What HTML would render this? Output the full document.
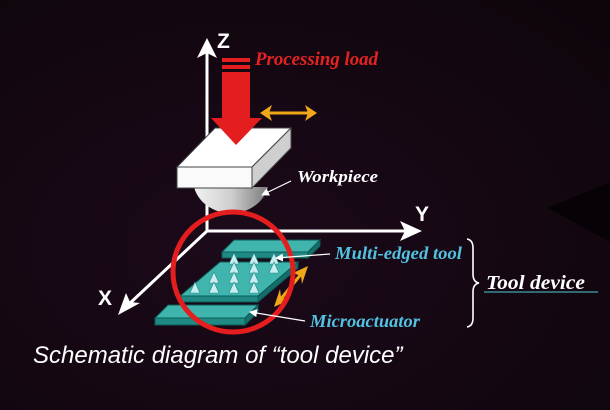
<!DOCTYPE html>
<html><head><style>
html,body{margin:0;padding:0;background:#14070f;}
svg{display:block}
</style></head><body>
<svg width="610" height="410" viewBox="0 0 610 410" xmlns="http://www.w3.org/2000/svg">
<defs>
<radialGradient id="bg" cx="0.4" cy="0.6" r="0.8"><stop offset="0" stop-color="#1c0a1a"/><stop offset="1" stop-color="#0e050b"/></radialGradient>
<linearGradient id="hemi" x1="0" y1="0" x2="1" y2="0"><stop offset="0" stop-color="#f2f2f2"/><stop offset="0.5" stop-color="#cfcfcf"/><stop offset="1" stop-color="#7a7a7a"/></linearGradient>
<marker id="wh" markerWidth="8" markerHeight="8" refX="7" refY="4" orient="auto" markerUnits="userSpaceOnUse"><path d="M0,0 L8,4 L0,8 Z" fill="#fff"/></marker>
</defs>
<rect width="610" height="410" fill="url(#bg)"/>
<path d="M548,208 L610,182 L610,242 Z" fill="#060206"/>
<g stroke="#fff" stroke-width="3" fill="none">
<line x1="207" y1="232" x2="207" y2="52"/>
<line x1="207" y1="231" x2="408" y2="231"/>
<line x1="207" y1="231" x2="128" y2="305"/>
</g>
<path d="M207,38 L197,58 L207,53 L217,58 Z" fill="#fff"/>
<path d="M422,231 L400,221 L405,231 L400,241 Z" fill="#fff"/>
<path d="M118,315 L126,293 L130,302 L140,303 Z" fill="#fff"/>
<text x="217" y="48" font-family="Liberation Sans,sans-serif" font-weight="bold" font-size="21" fill="#fff">Z</text>
<text x="415" y="221" font-family="Liberation Sans,sans-serif" font-weight="bold" font-size="21" fill="#fff">Y</text>
<text x="98" y="305" font-family="Liberation Sans,sans-serif" font-weight="bold" font-size="21" fill="#fff">X</text>
<path d="M194,187 A38,34 0 0 0 268,187 Z" fill="url(#hemi)"/>
<path d="M177,167 L252,167 L291,128 L215,128 Z" fill="#fff" stroke="#444" stroke-width="1"/>
<path d="M177,167 L252,167 L252,188 L177,188 Z" fill="#fafafa" stroke="#444" stroke-width="1"/>
<path d="M252,167 L291,128 L291,148 L252,188 Z" fill="#cfcfcf" stroke="#444" stroke-width="1"/>
<rect x="222" y="58" width="28" height="4" fill="#e41e1e"/>
<rect x="222" y="65" width="28" height="4" fill="#e41e1e"/>
<path d="M222,72 L250,72 L250,118 L262,118 L236,145 L211,118 L222,118 Z" fill="#e41e1e"/>
<text x="255" y="65" font-family="Liberation Serif,serif" font-style="italic" font-weight="bold" font-size="19" fill="#e62222" textLength="123" lengthAdjust="spacingAndGlyphs">Processing load</text>
<line x1="268" y1="113" x2="310" y2="113" stroke="#f0a818" stroke-width="3"/>
<path d="M260,113 L272,105 L269,113 L272,121 Z M317,113 L305,105 L308,113 L305,121 Z" fill="#f0a818"/>
<text x="297" y="182" font-family="Liberation Serif,serif" font-style="italic" font-weight="bold" font-size="17" fill="#fff" textLength="81" lengthAdjust="spacingAndGlyphs">Workpiece</text>
<line x1="291" y1="181" x2="262" y2="195" stroke="#fff" stroke-width="1.2" marker-end="url(#wh)"/>
<g stroke="#0d5a55" stroke-width="1">
<path d="M222,252 L308,252 L320,240 L234,240 Z" fill="#3fb5ae"/>
<path d="M222,252 L308,252 L308,258 L222,258 Z" fill="#1f8a84"/>
<path d="M308,252 L320,240 L320,246 L308,258 Z" fill="#166e6a"/>
<path d="M180,296 L258,296 L298,262 L220,262 Z" fill="#3fb5ae"/>
<path d="M180,296 L258,296 L258,302 L180,302 Z" fill="#1f8a84"/>
<path d="M258,296 L298,262 L298,268 L258,302 Z" fill="#166e6a"/>
<path d="M155,318 L245,318 L258,305 L168,305 Z" fill="#3fb5ae"/>
<path d="M155,318 L245,318 L245,325 L155,325 Z" fill="#1f8a84"/>
<path d="M245,318 L258,305 L258,312 L245,325 Z" fill="#166e6a"/>
</g>
<g fill="#c8eef2" stroke="#2a8a88" stroke-width="0.6">
<path d="M229,264 l5,-11 l5,11Z M249,264 l5,-11 l5,11Z M269,264 l5,-11 l5,11Z"/>
<path d="M229,273 l5,-11 l5,11Z M249,273 l5,-11 l5,11Z M269,273 l5,-11 l5,11Z"/>
<path d="M209,283 l5,-11 l5,11Z M229,283 l5,-11 l5,11Z M249,283 l5,-11 l5,11Z"/>
<path d="M190,293 l5,-11 l5,11Z M209,293 l5,-11 l5,11Z M229,293 l5,-11 l5,11Z M249,293 l5,-11 l5,11Z"/>
</g>
<line x1="302" y1="273" x2="280" y2="300" stroke="#f0a818" stroke-width="3"/>
<path d="M308,266 L293,273 L301,276 L302,284 Z M274,307 L289,300 L281,297 L280,289 Z" fill="#f0a818"/>
<circle cx="233" cy="272" r="60" fill="none" stroke="#e41e1e" stroke-width="5"/>
<line x1="330" y1="254" x2="276" y2="258" stroke="#fff" stroke-width="1.2" marker-end="url(#wh)"/>
<line x1="305" y1="321" x2="250" y2="312" stroke="#fff" stroke-width="1.2" marker-end="url(#wh)"/>
<text x="335" y="259" font-family="Liberation Serif,serif" font-style="italic" font-weight="bold" font-size="18" fill="#52c2e0" textLength="127" lengthAdjust="spacingAndGlyphs">Multi-edged tool</text>
<text x="310" y="327" font-family="Liberation Serif,serif" font-style="italic" font-weight="bold" font-size="18" fill="#52c2e0" textLength="110" lengthAdjust="spacingAndGlyphs">Microactuator</text>
<path d="M467,239 Q473,240 473,248 L473,274 Q473,282 479,283 Q473,284 473,292 L473,318 Q473,326 467,327" fill="none" stroke="#fff" stroke-width="1.6"/>
<text x="486" y="289" font-family="Liberation Serif,serif" font-style="italic" font-weight="bold" font-size="20" fill="#fff" textLength="99" lengthAdjust="spacingAndGlyphs">Tool device</text>
<line x1="484" y1="292" x2="598" y2="292" stroke="#3a8c96" stroke-width="1.5"/>
<text x="33" y="363" font-family="Liberation Sans,sans-serif" font-style="italic" font-size="24" fill="#fff">Schematic diagram of “tool device”</text>
</svg>
</body></html>
